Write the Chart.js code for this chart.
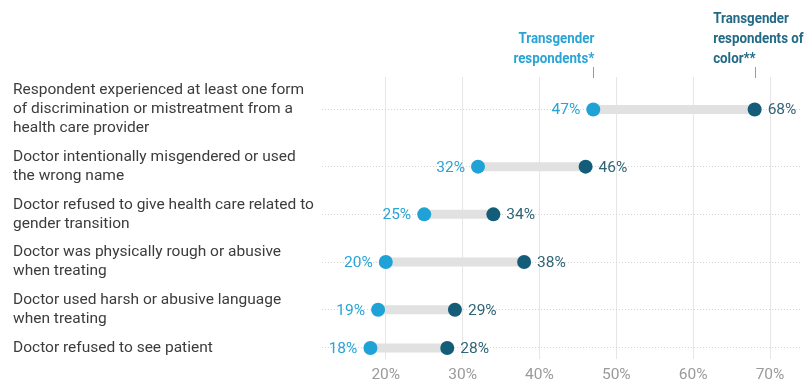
<!DOCTYPE html>
<html>
<head>
<meta charset="utf-8">
<script src="https://cdn.jsdelivr.net/npm/chart.js@4.4.1/dist/chart.umd.min.js"></script>
<style>
  html, body { margin: 0; padding: 0; background: #fff; }
  #wrap { width: 811px; height: 381px; position: relative; }
</style>
</head>
<body>
<div id="wrap"><canvas id="chart"></canvas></div>
<script>
// rows, top to bottom (each entry is the label split into its lines)
const categories = [
  ["Respondent experienced at least one form", "of discrimination or mistreatment from a", "health care provider"],
  ["Doctor intentionally misgendered or used", "the wrong name"],
  ["Doctor refused to give health care related to", "gender transition"],
  ["Doctor was physically rough or abusive", "when treating"],
  ["Doctor used harsh or abusive language", "when treating"],
  ["Doctor refused to see patient"],
];
const transgender = [47, 32, 25, 20, 19, 18];
const ofColor = [68, 46, 34, 38, 29, 28];
const xTicks = [20, 30, 40, 50, 60, 70];
const seriesNames = [["Transgender", "respondents*"], ["Transgender", "respondents of", "color**"]];

const COLOR = {
  light: "#1fa2d6",
  dark: "#135d79",
  lightText: "#29a4d5",
  darkText: "#2f6477",
  darkHead: "#226a86",
  connector: "#e1e1e1",
  label: "#3c3c3c",
  tick: "#9a9a9a",
  grid: "#e6e6e6",
};

// row centre in "text line" units, so taller labels get taller rows
const rowPos = [];
let cursor = 0;
categories.forEach(lines => {
  rowPos.push(cursor + lines.length / 2);
  cursor += lines.length + 0.5;
});

const pct = v => v + "%";

const dotSets = [
  {
    label: "Transgender respondents",
    data: transgender.map((v, i) => ({ x: v, y: rowPos[i] })),
    backgroundColor: COLOR.light,
    pointRadius: 7,
    pointBorderWidth: 0,
    order: 0,
  },
  {
    label: "Transgender respondents of color",
    data: ofColor.map((v, i) => ({ x: v, y: rowPos[i] })),
    backgroundColor: COLOR.dark,
    pointRadius: 7,
    pointBorderWidth: 0,
    order: 0,
  },
];

const connectors = rowPos.map((p, i) => ({
  label: "gap" + i,
  data: [{ x: transgender[i], y: p }, { x: ofColor[i], y: p }],
  showLine: true,
  borderColor: COLOR.connector,
  borderWidth: 9,
  pointRadius: 0,
  borderCapStyle: "butt",
  order: 1,
}));

// value labels next to the dots + series headers above the first row
const labelPlugin = {
  id: "dumbbellLabels",
  afterDatasetsDraw(chart) {
    const { ctx, scales } = chart;
    const xs = scales.x, ys = scales.y;
    ctx.save();
    ctx.font = "15.5px Roboto";
    ctx.textBaseline = "middle";
    rowPos.forEach((p, i) => {
      const y = ys.getPixelForValue(p);
      const lo = Math.min(transgender[i], ofColor[i]);
      ctx.fillStyle = COLOR.lightText;
      ctx.textAlign = transgender[i] === lo ? "right" : "left";
      const xl = xs.getPixelForValue(transgender[i]);
      ctx.fillText(pct(transgender[i]), xl + (transgender[i] === lo ? -13 : 13), y + 1);
      ctx.fillStyle = COLOR.darkText;
      ctx.textAlign = ofColor[i] === lo ? "right" : "left";
      const xd = xs.getPixelForValue(ofColor[i]);
      ctx.fillText(pct(ofColor[i]), xd + (ofColor[i] === lo ? -13 : 13), y + 1);
    });

    // headers
    const top = chart.chartArea.top;
    const hx1 = xs.getPixelForValue(transgender[0]);
    const hx2 = xs.getPixelForValue(ofColor[0]);
    ctx.strokeStyle = COLOR.tick;
    ctx.lineWidth = 1;
    [hx1, hx2].forEach(x => {
      ctx.beginPath();
      ctx.moveTo(Math.round(x) + 0.5, top - 10);
      ctx.lineTo(Math.round(x) + 0.5, top + 1);
      ctx.stroke();
    });

    ctx.font = "bold 15.5px Roboto";
    const squeeze = 0.86;
    const lineH = 20;
    const drawHeader = (lines, x, align, color) => {
      ctx.fillStyle = color;
      ctx.textAlign = align;
      lines.forEach((t, k) => {
        const y = top - 18 - (lines.length - 1 - k) * lineH;
        ctx.save();
        ctx.translate(x, y);
        ctx.scale(squeeze, 1);
        ctx.fillText(t, 0, 0);
        ctx.restore();
      });
    };
    drawHeader(seriesNames[0], hx1 + 1, "right", COLOR.lightText);
    const lastW = ctx.measureText(seriesNames[1][2]).width * squeeze;
    drawHeader(seriesNames[1], hx2 - lastW + 1, "left", COLOR.darkHead);
    ctx.restore();
  },
};

new Chart(document.getElementById("chart"), {
  type: "scatter",
  data: { datasets: [...dotSets, ...connectors] },
  plugins: [labelPlugin],
  options: {
    responsive: true,
    maintainAspectRatio: false,
    animation: false,
    events: [],
    layout: { padding: { top: 77, left: 13, right: 11, bottom: 0 } },
    plugins: {
      legend: { display: false },
      tooltip: { enabled: false },
      title: { display: false },
    },
    scales: {
      x: {
        type: "linear",
        min: 11.7,
        max: 73.9,
        afterBuildTicks: axis => {
          axis.ticks = xTicks.map(v => ({ value: v }));
        },
        afterFit: axis => {
          axis.height = 22;
          axis.paddingLeft = 0;
          axis.paddingRight = 0;
        },
        grid: {
          color: COLOR.grid,
          drawTicks: false,
        },
        border: { display: false },
        ticks: {
          color: COLOR.tick,
          font: { family: "Roboto", size: 15.5 },
          padding: 7,
          callback: v => pct(v),
        },
      },
      y: {
        type: "linear",
        reverse: true,
        min: -0.2,
        max: 14.58,
        afterBuildTicks: axis => {
          axis.ticks = rowPos.map(v => ({ value: v }));
        },
        afterFit: axis => {
          // multi-line labels would otherwise push the plot edges in
          axis.width = 309;
          axis.paddingTop = 0;
          axis.paddingBottom = 0;
        },
        grid: {
          color: "#d4d4d4",
          drawTicks: false,
        },
        border: { display: false, dash: [1, 2] },
        ticks: {
          color: COLOR.label,
          crossAlign: "far",
          autoSkip: false,
          padding: 0,
          font: { family: "Roboto", size: 15.5, lineHeight: 1.23 },
          callback: v => categories[rowPos.indexOf(v)],
        },
      },
    },
  },
});
</script>
</body>
</html>
